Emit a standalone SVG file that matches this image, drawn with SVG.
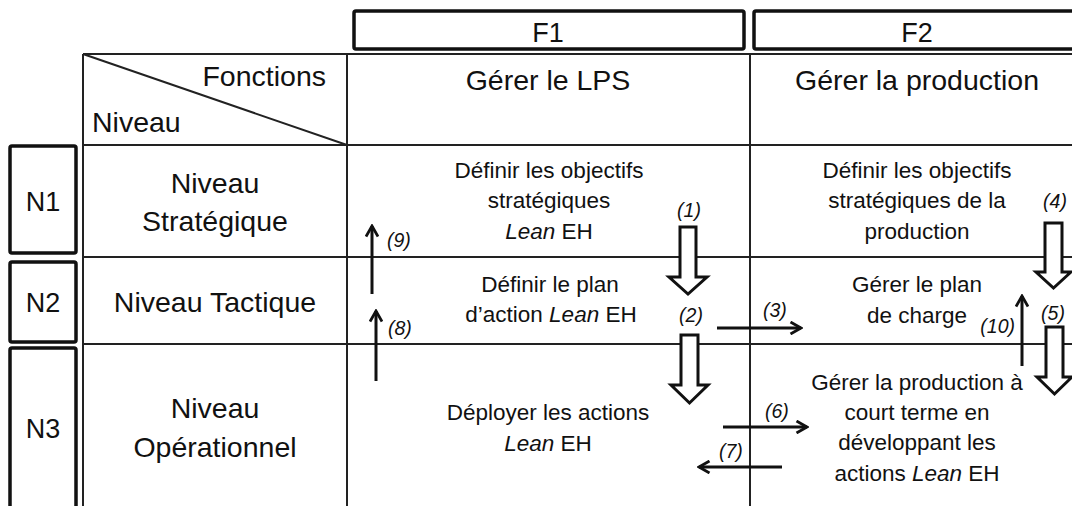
<svg xmlns="http://www.w3.org/2000/svg" width="1072" height="506" viewBox="0 0 1072 506">
<defs>
<style>
text{font-family:"Liberation Sans",Arial,sans-serif;fill:#111;}
.h{font-size:28.5px;text-anchor:middle;}
.f{font-size:27px;text-anchor:middle;}
.c{font-size:22.5px;text-anchor:middle;}
.lb{font-size:19.5px;font-style:italic;}
.i{font-style:italic;}
.grid{stroke:#222;stroke-width:2;fill:none;}
.box{stroke:#111;stroke-width:3.5;fill:#fff;}
.thin{stroke:#111;stroke-width:3;fill:none;marker-end:url(#ah);}
.blk{stroke:#111;stroke-width:3;fill:#fff;stroke-linejoin:miter;}
</style>
<marker id="ah" viewBox="0 0 14 14" refX="12" refY="7" markerWidth="14" markerHeight="14" markerUnits="userSpaceOnUse" orient="auto">
<path d="M1.5,1 L12,7 L1.5,13" fill="none" stroke="#111" stroke-width="2.8"/>
</marker>
</defs>
<rect width="1072" height="506" fill="#fff"/>
<g id="table">
<path class="grid" d="M83,54 H1072 M83,145 H1072 M83,257 H1072 M83,344 H1072 M83,54 V506 M347,54 V506 M750,54 V506 M83,54 L347,145"/>
</g>
<g id="F1"><rect class="box" x="354" y="11" width="390" height="38" rx="2"/><text class="f" x="548" y="42">F1</text></g>
<g id="F2"><rect class="box" x="754" y="11" width="340" height="38" rx="2"/><text class="f" x="917" y="42">F2</text></g>
<g id="N1"><rect class="box" x="10" y="146" width="66" height="107" rx="2"/><text class="f" x="43" y="211">N1</text></g>
<g id="N2"><rect class="box" x="10" y="262" width="66" height="80" rx="2"/><text class="f" x="43" y="312">N2</text></g>
<g id="N3"><rect class="box" x="10" y="348" width="66" height="170" rx="2"/><text class="f" x="43" y="438">N3</text></g>
<g id="header-corner">
<text class="h" x="326" y="86" style="text-anchor:end">Fonctions</text>
<text class="h" x="92" y="132" style="text-anchor:start">Niveau</text>
</g>
<g id="col-F1"><text class="h" x="548" y="90">Gérer le LPS</text></g>
<g id="col-F2"><text class="h" x="917" y="90">Gérer la production</text></g>
<g id="row-N1"><text class="h" x="215" y="193">Niveau</text><text class="h" x="215" y="231">Stratégique</text></g>
<g id="row-N2"><text class="h" x="215" y="312">Niveau Tactique</text></g>
<g id="row-N3"><text class="h" x="215" y="418">Niveau</text><text class="h" x="215" y="457">Opérationnel</text></g>
<g id="F1N1"><text class="c" x="549" y="178">Définir les objectifs</text><text class="c" x="549" y="208">stratégiques</text><text class="c" x="549" y="239"><tspan class="i">Lean</tspan> EH</text></g>
<g id="F1N2"><text class="c" x="550" y="292">Définir le plan</text><text class="c" x="551" y="322">d’action <tspan class="i">Lean</tspan> EH</text></g>
<g id="F1N3"><text class="c" x="548" y="420">Déployer les actions</text><text class="c" x="548" y="451"><tspan class="i">Lean</tspan> EH</text></g>
<g id="F2N1"><text class="c" x="917" y="178">Définir les objectifs</text><text class="c" x="917" y="208">stratégiques de la</text><text class="c" x="917" y="239">production</text></g>
<g id="F2N2"><text class="c" x="917" y="292">Gérer le plan</text><text class="c" x="917" y="323">de charge</text></g>
<g id="F2N3"><text class="c" x="917" y="390">Gérer la production à</text><text class="c" x="917" y="420">court terme en</text><text class="c" x="917" y="450">développant les</text><text class="c" x="917" y="481">actions <tspan class="i">Lean</tspan> EH</text></g>
<g id="connectors">
<path class="blk" d="M680,227 H696 V277 H707 L688,294 L669,277 H680 Z"/>
<path class="blk" d="M681,335 H698 V385 H708 L689.5,403 L671,385 H681 Z"/>
<path class="blk" d="M1045,223 H1062 V272 H1071 L1053.5,288 L1036,272 H1045 Z"/>
<path class="blk" d="M1046,327 H1063 V377 H1072 L1054.5,394 L1037,377 H1046 Z"/>
<line class="thin" x1="372" y1="294" x2="372" y2="226"/>
<line class="thin" x1="376" y1="381" x2="376" y2="311"/>
<line class="thin" x1="1022" y1="366" x2="1022" y2="296"/>
<line class="thin" x1="717" y1="328" x2="801" y2="328"/>
<line class="thin" x1="723" y1="427" x2="807" y2="427"/>
<line class="thin" x1="782" y1="467" x2="699" y2="467"/>
<text class="lb" x="689" y="217" text-anchor="middle">(1)</text>
<text class="lb" x="691" y="322" text-anchor="middle">(2)</text>
<text class="lb" x="763" y="317">(3)</text>
<text class="lb" x="1055" y="208" text-anchor="middle">(4)</text>
<text class="lb" x="1053" y="320" text-anchor="middle">(5)</text>
<text class="lb" x="765" y="418">(6)</text>
<text class="lb" x="719" y="458">(7)</text>
<text class="lb" x="388" y="335">(8)</text>
<text class="lb" x="387" y="247">(9)</text>
<text class="lb" x="1015" y="333" text-anchor="end">(10)</text>
</g>
</svg>
